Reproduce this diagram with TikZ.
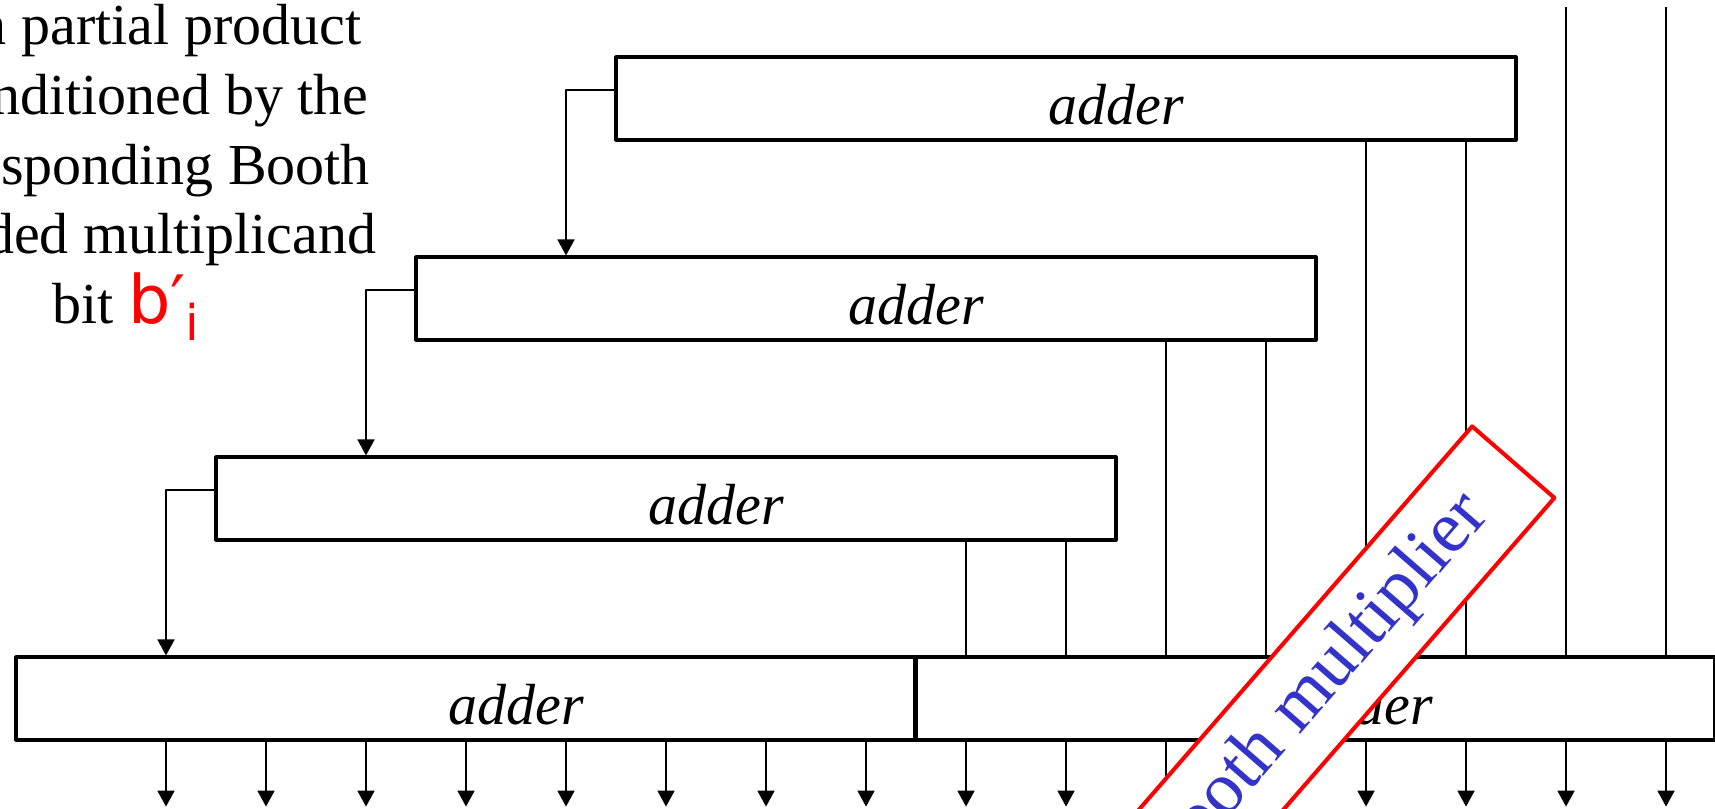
\documentclass[tikz,border=0pt]{standalone}
\usepackage{fontspec}
\setmainfont{Liberation Serif}
\newfontfamily\handfont{DejaVu Sans}
\usetikzlibrary{arrows.meta}
\definecolor{boothblue}{RGB}{51,51,204}

\begin{document}
\begin{tikzpicture}[>={Triangle[width=1.7mm,length=1.6mm]},line join=round,
	adder/.style={draw,line width=.9pt,minimum width=9cm,minimum height=.83cm,inner sep=0pt,
		text height=.6cm,text depth=.09cm,font=\fontsize{16.5}{20}\selectfont\itshape},
	wire/.style={line width=.5pt}]
	\useasboundingbox (0,0) rectangle (17.15,-8.08);
	% columns of bits
	\foreach \i in {0,...,15} \coordinate (c\i) at (1.66+\i,-.07);
	% the staircase of adders
	\node[adder] (add1) at (10.66,-.985) {\hspace*{1cm}adder};
	\node[adder] (add2) at (8.66,-2.985) {\hspace*{1cm}adder};
	\node[adder] (add3) at (6.66,-4.985) {\hspace*{1cm}adder};
	\node[adder] (add4) at (4.66,-6.985) {\hspace*{1cm}adder};
	\node[adder,minimum width=8cm] (add5) at (13.15,-6.985) {\hspace*{1cm}adder};
	\node[align=center,anchor=north,inner sep=0pt,font=\fontsize{16.5}{19.8}\selectfont] (note) at (1.26,-.04)
		{Each partial product\\is conditioned by the\\corresponding Booth\\encoded multiplicand\\bit
		{\color{red}\fontsize{19}{20}\handfont b′\raisebox{-5pt}{\fontsize{14}{14}\selectfont i}}};
	% wires
	\foreach \i in {14,15} \draw[wire] (c\i) -- (add5.north -| c\i);
	\foreach \a/\i in {add1/12,add1/13,add2/10,add2/11,add3/8,add3/9}
		\draw[wire] (\a.south -| c\i) -- (add5.north -| c\i);
	\foreach \a/\b/\i in {add1/add2/4,add2/add3/2,add3/add4/0}
		\draw[wire,->] ([yshift=.85mm]\a.west) -| (\b.north -| c\i);
	\foreach \i in {0,...,7} \draw[wire,->] (add4.south -| c\i) -- ++(0,-.65);
	\foreach \i in {8,...,15} \draw[wire,->] (add5.south -| c\i) -- ++(0,-.65);
	% stamp
	\node[rotate=49,draw=red,line width=1.15pt,fill=white,text=boothblue,minimum width=6.01cm,
		minimum height=1.09cm,font=\fontsize{21}{24}\selectfont] (booth) at (13.161,-6.889) {Booth multiplier};
\end{tikzpicture}
\end{document}
